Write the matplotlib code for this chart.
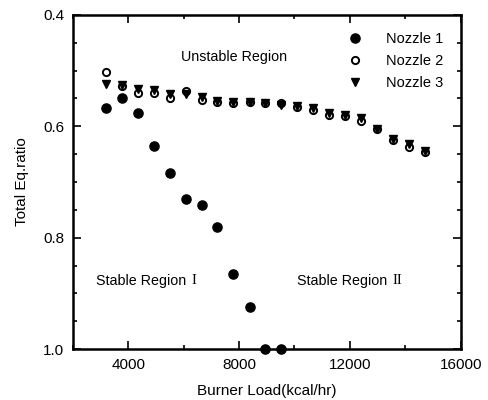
import matplotlib
matplotlib.use('Agg')
import matplotlib.pyplot as plt
from matplotlib.ticker import MultipleLocator

plt.rcParams['font.family'] = ['Liberation Sans', 'DejaVu Sans']

# burner load grid (kcal/hr)
load = [3200, 3780, 4360, 4940, 5520, 6100, 6660, 7220, 7790, 8380, 8950,
        9530, 10110, 10680, 11240, 11820, 12400, 12980, 13550, 14130, 14700]

# total equivalence ratio at each load
nozzle1 = [0.567, 0.549, 0.577, 0.635, 0.684, 0.731, 0.741, 0.781, 0.865,
           0.924, 1.0, 1.0]
nozzle2 = [0.503, 0.527, 0.541, 0.541, 0.550, 0.537, 0.552, 0.557, 0.558,
           0.557, 0.559, 0.559, 0.566, 0.570, 0.579, 0.582, 0.591, 0.605,
           0.625, 0.638, 0.647]
nozzle3 = [0.524, 0.526, 0.534, 0.535, 0.543, 0.543, 0.548, 0.554, 0.556,
           0.557, 0.559, 0.562, 0.564, 0.568, 0.576, 0.579, 0.586, 0.605,
           0.622, 0.632, 0.644]

fig = plt.figure(figsize=(4.88, 4.0), dpi=100)
ax = fig.add_axes([0.149, 0.127, 0.795, 0.836])

ax.plot(load[:len(nozzle2)], nozzle2, 'o', ms=5.2, mfc='white', mec='black',
        mew=1.4, ls='none', label='Nozzle 2', clip_on=False, zorder=3)
ax.plot(load[:len(nozzle3)], nozzle3, 'v', ms=6, color='black',
        ls='none', label='Nozzle 3', clip_on=False, zorder=4)
ax.plot(load[:len(nozzle1)], nozzle1, 'o', ms=6.6, color='black',
        ls='none', label='Nozzle 1', clip_on=False, zorder=5)

ax.set_xlim(2000, 16000)
ax.set_ylim(1.0, 0.4)
ax.xaxis.set_minor_locator(MultipleLocator(2000))
ax.yaxis.set_minor_locator(MultipleLocator(0.05))
ax.set_xticks([4000, 8000, 12000, 16000])
ax.set_xticklabels(['4000', '8000', '12000', '16000'])
ax.set_yticks([0.4, 0.6, 0.8, 1.0])
ax.set_yticklabels(['0.4', '0.6', '0.8', '1.0'])

ax.tick_params(which='both', direction='in', top=True, right=True,
               labelsize=11, width=1.2, pad=6)
ax.tick_params(which='major', length=6)
ax.tick_params(which='minor', length=3)
for s in ax.spines.values():
    s.set_linewidth(1.8)

ax.set_xlabel('Burner Load(kcal/hr)', fontsize=11, labelpad=9)
ax.set_ylabel('Total Eq.ratio', fontsize=11, labelpad=10)

ax.text(7840, 0.476, 'Unstable Region', fontsize=10.3, ha='center', va='center')

# region labels: sans-serif words, serif roman numerals
for x0, num in [(2830, 'I'), (10080, 'II')]:
    t = ax.text(x0, 0.877, 'Stable Region', fontsize=10.3,
                ha='left', va='center')
    ax.annotate(num, xy=(1, 0.5), xycoords=t, xytext=(4, 0),
                textcoords='offset points', fontsize=10.3,
                family='Liberation Serif', ha='left', va='center')

handles, labels = ax.get_legend_handles_labels()
order = [2, 0, 1]
ax.legend([handles[i] for i in order], [labels[i] for i in order],
          loc='upper left', bbox_to_anchor=(0.675, 0.988), frameon=False,
          fontsize=10.5, handlelength=1.0, handletextpad=1.6,
          labelspacing=0.55)

fig.savefig('out.png', dpi=100)
